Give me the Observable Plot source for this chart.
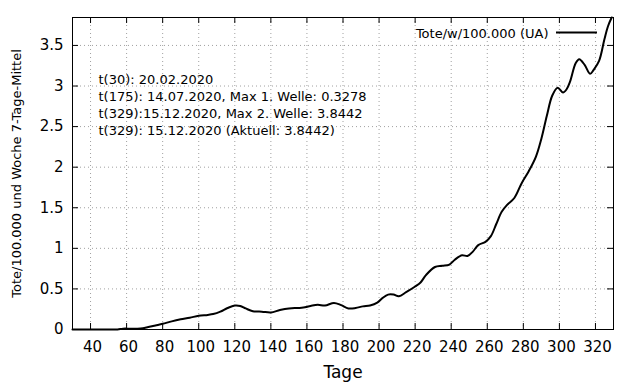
<!DOCTYPE html>
<html>
<head>
<meta charset="utf-8">
<script src="https://cdn.jsdelivr.net/npm/d3@7"></script>
<script src="https://cdn.jsdelivr.net/npm/@observablehq/plot@0.6"></script>
<style>
  body { margin: 0; background: #fff; }
  svg { font-family: "DejaVu Sans", sans-serif; }
</style>
</head>
<body>
<div id="chart"></div>
<script>
const days = [30,40,50,55,58,62,66,69,72,76,80,85,90,95,100,105,108,112,116,120,123,126,130,135,140,145,150,155,158,162,166,170,175,179,183,187,191,195,199,202,205,208,211,215,220,223,226,231,235,239,242,246,249,252,255,259,262,265,268,271,275,279,283,287,290,293,296,299,302,304,306,309,311,314,317,319,322,325,327,329];
const values = [0,0,0,0,0.01,0.01,0.01,0.015,0.03,0.05,0.07,0.10,0.125,0.145,0.17,0.18,0.19,0.22,0.265,0.295,0.29,0.26,0.225,0.22,0.21,0.24,0.26,0.265,0.27,0.29,0.305,0.295,0.3278,0.30,0.26,0.265,0.285,0.295,0.33,0.39,0.43,0.43,0.41,0.46,0.53,0.58,0.67,0.77,0.785,0.80,0.86,0.915,0.905,0.96,1.04,1.08,1.15,1.30,1.45,1.535,1.62,1.80,1.95,2.13,2.35,2.63,2.88,2.98,2.92,2.96,3.06,3.28,3.33,3.26,3.15,3.20,3.31,3.58,3.74,3.8442];
const xTicks = [40,60,80,100,120,140,160,180,200,220,240,260,280,300,320];
const yTicks = [0,0.5,1,1.5,2,2.5,3,3.5];
const yTickLabels = ["0","0.5","1","1.5","2","2.5","3","3.5"];
const annotations = [
  "t(30): 20.02.2020",
  "t(175): 14.07.2020, Max 1. Welle: 0.3278",
  "t(329):15.12.2020, Max 2. Welle: 3.8442",
  "t(329): 15.12.2020 (Aktuell: 3.8442)"
];
const seriesLabel = "Tote/w/100.000 (UA)";
const xLabel = "Tage";
const yLabel = "Tote/100.000 und Woche 7-Tage-Mittel";

const data = days.map((d, i) => ({t: d, v: values[i]}));

const W = 640, H = 384, mL = 72, mR = 27, mT = 17, mB = 55;
const pw = W - mL - mR, ph = H - mT - mB, tk = 6;

const chart = Plot.plot({
  width: W, height: H,
  marginLeft: mL, marginRight: mR, marginTop: mT, marginBottom: mB,
  style: {fontFamily: "DejaVu Sans, sans-serif", background: "white", color: "black"},
  x: {domain: [30, 330]},
  y: {domain: [0, 3.8442]},
  marks: [
    Plot.gridX(xTicks, {stroke: "#a0a0a0", strokeOpacity: 1, strokeDasharray: "1,3"}),
    Plot.gridY(yTicks.filter(d => d > 0), {stroke: "#a0a0a0", strokeOpacity: 1, strokeDasharray: "1,3"}),
    Plot.axisX(xTicks, {tickSize: 0, tickPadding: 12, fontSize: 15, label: null, dx: 2}),
    Plot.axisY(yTicks, {tickSize: 0, tickPadding: 9, fontSize: 15, label: null, tickFormat: d => yTickLabels[yTicks.indexOf(d)]}),
    Plot.ruleX(xTicks, {x: d => d, insetTop: ph - tk, stroke: "black"}),
    Plot.ruleX(xTicks, {x: d => d, insetBottom: ph - tk, stroke: "black"}),
    Plot.ruleY(yTicks, {y: d => d, insetRight: pw - tk, stroke: "black"}),
    Plot.ruleY(yTicks, {y: d => d, insetLeft: pw - tk, stroke: "black"}),
    Plot.text([annotations.join("\n")], {frameAnchor: "top-left", textAnchor: "start", lineAnchor: "top", dx: 26, dy: 54, fontSize: 13, lineHeight: 17/13, fill: "black"}),
    Plot.text([seriesLabel], {frameAnchor: "top-right", textAnchor: "end", lineAnchor: "middle", dx: -65, dy: 16, fontSize: 13, fill: "black"}),
    Plot.text([xLabel], {frameAnchor: "bottom", lineAnchor: "middle", dy: 43, fontSize: 17, fill: "black"}),
    Plot.text([yLabel], {frameAnchor: "left", textAnchor: "middle", rotate: -90, lineAnchor: "middle", dx: -56, fontSize: 13, fill: "black"}),
    Plot.line(data, {x: "t", y: "v", stroke: "black", strokeWidth: 2, curve: "catmull-rom"}),
    Plot.frame({stroke: "black", strokeWidth: 1})
  ]
});

// legend sample line
d3.select(chart).append("line")
  .attr("x1", 556).attr("x2", 597).attr("y1", 32.5).attr("y2", 32.5)
  .attr("stroke", "black").attr("stroke-width", 2);

document.getElementById("chart").appendChild(chart);
</script>
</body>
</html>
